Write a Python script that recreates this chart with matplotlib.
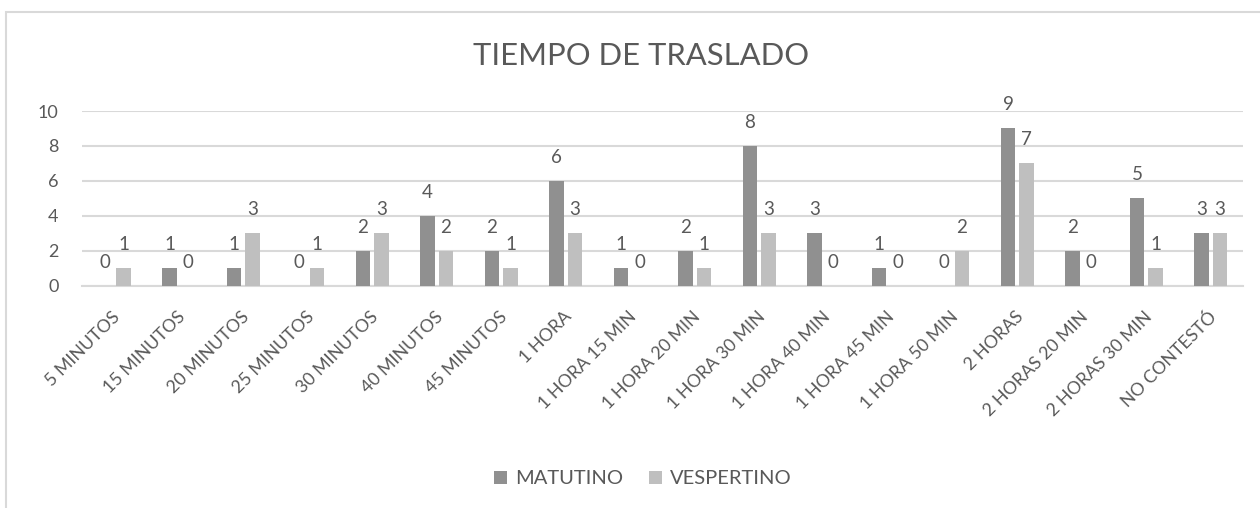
import matplotlib
matplotlib.use("Agg")
import matplotlib.pyplot as plt
from matplotlib.transforms import offset_copy
from matplotlib.patches import Rectangle
import numpy as np

categories = ["5 MINUTOS", "15 MINUTOS", "20 MINUTOS", "25 MINUTOS", "30 MINUTOS",
              "40 MINUTOS", "45 MINUTOS", "1 HORA", "1 HORA 15 MIN", "1 HORA 20 MIN",
              "1 HORA 30 MIN", "1 HORA 40 MIN", "1 HORA 45 MIN", "1 HORA 50 MIN",
              "2 HORAS", "2 HORAS 20 MIN", "2 HORAS 30 MIN", "NO CONTESTÓ"]
matutino = [0, 1, 1, 0, 2, 4, 2, 6, 1, 2, 8, 3, 1, 0, 9, 2, 5, 3]
vespertino = [1, 0, 3, 1, 3, 2, 1, 3, 0, 1, 3, 0, 0, 2, 7, 0, 1, 3]
series_names = ["MATUTINO", "VESPERTINO"]
title = "TIEMPO DE TRASLADO"
yticks = [0, 2, 4, 6, 8, 10]

plt.rcParams['font.family'] = ['Lato', 'DejaVu Sans']
TXT = "#595959"
GRID = "#d9d9d9"
C_MAT = "#909090"
C_VES = "#bfbfbf"

W, H = 1260, 508
fig = plt.figure(figsize=(W / 100, H / 100), dpi=100)

# chart border
fig.patches.append(Rectangle((6 / W, -0.2), 1.2, 1.2 - 12 / H, transform=fig.transFigure,
                             fill=False, edgecolor=GRID, linewidth=1.5))

ax = fig.add_axes([82 / W, 1 - 285.7 / H, (1243 - 82) / W, (285.7 - 111) / H])
x = np.arange(len(categories))
bw = 0.2248
off = 0.1434
b1 = ax.bar(x - off, matutino, bw, color=C_MAT, label=series_names[0], zorder=3)
b2 = ax.bar(x + off, vespertino, bw, color=C_VES, label=series_names[1], zorder=3)

ax.set_xlim(-0.5, len(categories) - 0.5)
ax.set_ylim(0, 10)
ax.set_yticks(yticks)
ax.set_yticklabels([str(t) for t in yticks])
ax.tick_params(axis='y', length=0, pad=17, labelsize=13, labelcolor=TXT)
ax.tick_params(axis='x', length=0, labelbottom=False)
ax.set_xticks([])
for s in ['top', 'right', 'left']:
    ax.spines[s].set_visible(False)
ax.spines['bottom'].set_color(GRID)
ax.spines['bottom'].set_linewidth(1.5)
ax.spines['bottom'].set_zorder(2)
ax.yaxis.grid(True, color=GRID, linewidth=1.5, zorder=1)
ax.set_axisbelow(True)

# data labels
for bars, vals in ((b1, matutino), (b2, vespertino)):
    for rect, v in zip(bars, vals):
        ax.annotate(str(v), (rect.get_x() + rect.get_width() / 2, v),
                    xytext=(0, 18 * 0.72), textcoords='offset points',
                    ha='center', va='baseline', fontsize=13.5, color=TXT)

# category labels
tr = offset_copy(ax.get_xaxis_transform(), fig=fig, x=7, y=-32, units='dots')
for i, c in enumerate(categories):
    ax.text(i, 0, c, transform=tr, rotation=45, rotation_mode='anchor',
            ha='right', va='baseline', fontsize=12.8, color=TXT)

fig.text(641 / W, 1 - 65 / H, title, ha='center', va='baseline', fontsize=22.3, color=TXT)

leg = fig.legend(handles=[b1, b2], labels=series_names, loc='center',
                 bbox_to_anchor=(643 / W, 1 - 479 / H), ncol=2, frameon=False,
                 fontsize=14.5, handlelength=0.64, handleheight=0.64,
                 handletextpad=0.4, columnspacing=1.3, labelcolor=TXT)

fig.savefig("out.png", dpi=100)
